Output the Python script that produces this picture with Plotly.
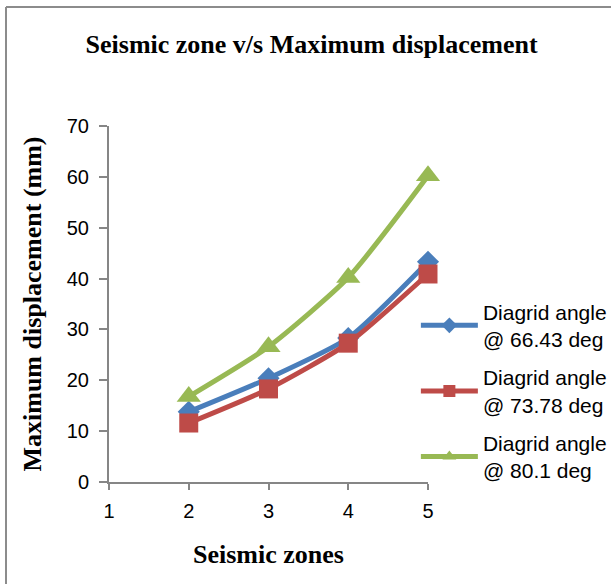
import plotly.graph_objects as go

zones = [2, 3, 4, 5]
disp_6643 = [13.8, 20.4, 28.3, 43.3]
disp_7378 = [11.6, 18.3, 27.3, 40.9]
disp_801 = [16.8, 26.6, 40.2, 60.2]
names = ["Diagrid angle<br>@ 66.43 deg", "Diagrid angle<br>@ 73.78 deg", "Diagrid angle<br>@ 80.1 deg"]
colors = ["#4A7EBB", "#BE4B48", "#98B954"]
symbols = ["diamond", "square", "triangle-up"]
sizes = [17, 19, 21]

fig = go.Figure()
for i, (vals, nm, c, s, sz) in enumerate(zip([disp_6643, disp_7378, disp_801], names, colors, symbols, sizes)):
    fig.add_trace(go.Scatter(
        x=zones, y=vals, name=nm, mode="lines+markers", legendgroup=f"g{i}",
        line=dict(color=c, width=5, shape="spline", smoothing=0.6),
        marker=dict(symbol=s, size=sz, color=c),
        cliponaxis=False,
    ))

axis_font = dict(family="Liberation Sans, Arial, sans-serif", size=20, color="#000000")
title_font = dict(family="Liberation Serif, Times New Roman, serif", size=26, color="#000000")

fig.update_layout(
    width=611, height=584,
    margin=dict(l=109, r=183, t=126, b=102, autoexpand=False),
    paper_bgcolor="white", plot_bgcolor="white",
    title=dict(text="<b>Seismic zone v/s Maximum displacement</b>", font=title_font,
               x=0.51, xanchor="center", y=0.924, yanchor="middle"),
    showlegend=True,
    legend=dict(x=0.962, y=0.535, xanchor="left", yanchor="top",
                font=dict(family="Liberation Sans, Arial, sans-serif", size=21, color="#000000"),
                itemwidth=57, itemsizing="constant", traceorder="grouped",
                tracegroupgap=8, bgcolor="rgba(0,0,0,0)"),
    xaxis=dict(range=[1, 5], tickvals=[1, 2, 3, 4, 5], showgrid=False, zeroline=False,
               showline=True, linecolor="#868686", linewidth=2,
               ticks="outside", ticklen=6, tickcolor="#868686", tickwidth=2,
               tickfont=axis_font, ticklabelstandoff=4,
               title=dict(text="<b>Seismic zones</b>", font=title_font, standoff=24)),
    yaxis=dict(range=[0, 70], tickvals=[0, 10, 20, 30, 40, 50, 60, 70], showgrid=False, zeroline=False,
               showline=True, linecolor="#868686", linewidth=2,
               ticks="outside", ticklen=8, tickcolor="#868686", tickwidth=2,
               tickfont=axis_font, ticklabelstandoff=6,
               title=dict(text="<b>Maximum displacement (mm)</b>", font=title_font, standoff=18)),
)

# outer chart border (top and left edges visible in reference)
fig.add_shape(type="line", xref="paper", yref="paper",
              x0=(6 - 109) / 319, x1=(611 - 109) / 319, y0=(482 - 7) / 356, y1=(482 - 7) / 356,
              line=dict(color="#8c8c8c", width=2))
fig.add_shape(type="line", xref="paper", yref="paper",
              x0=(6 - 109) / 319, x1=(6 - 109) / 319, y0=(482 - 7) / 356, y1=(482 - 584) / 356,
              line=dict(color="#8c8c8c", width=2))

fig.write_html("out.html")
